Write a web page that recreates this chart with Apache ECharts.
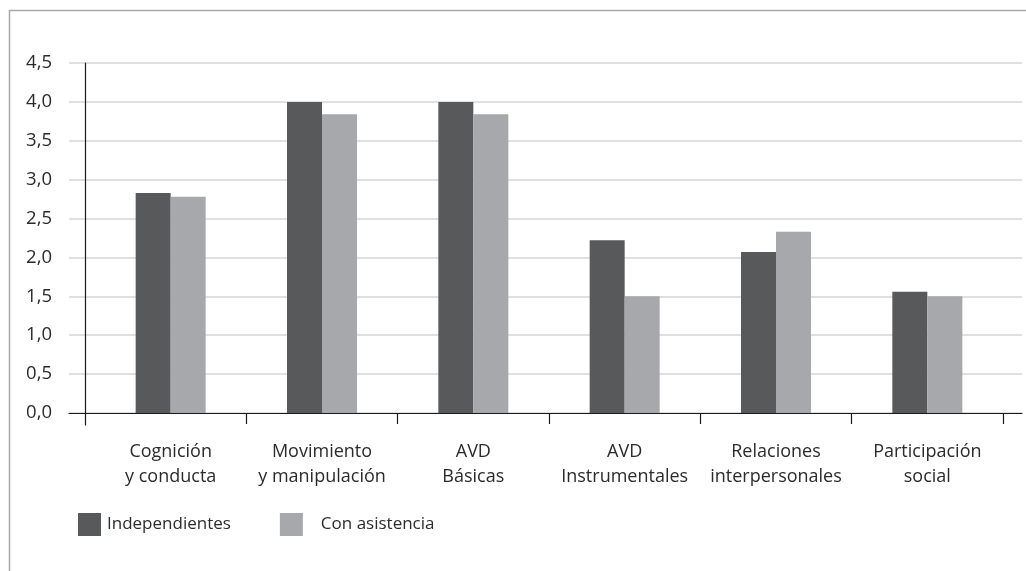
<!DOCTYPE html>
<html>
<head>
<meta charset="utf-8">
<script src="https://cdn.jsdelivr.net/npm/echarts@6/dist/echarts.min.js"></script>
<style>html,body{margin:0;padding:0;background:#fff}#c{width:1026px;height:571px}</style>
</head>
<body>
<div id="c"></div>
<script>
var categories = ['Cognición\ny conducta', 'Movimiento\ny manipulación', 'AVD\nBásicas', 'AVD\nInstrumentales', 'Relaciones\ninterpersonales', 'Participación\nsocial'];
var independientes = [2.83, 4.0, 4.0, 2.22, 2.07, 1.56];
var conAsistencia = [2.78, 3.84, 3.84, 1.5, 2.33, 1.5];
var seriesNames = ['Independientes', 'Con asistencia'];
var yMin = 0, yMax = 4.5, yStep = 0.5;

var FONT = 'Open Sans';
var chart = echarts.init(document.getElementById('c'));
chart.setOption({
  animation: false,
  backgroundColor: '#fff',
  textStyle: {fontFamily: FONT},
  graphic: [
    {type: 'line', shape: {x1: 9, y1: 10.5, x2: 1026, y2: 10.5}, style: {stroke: '#a8a8a8', lineWidth: 1.5}, silent: true},
    {type: 'line', shape: {x1: 9.5, y1: 10, x2: 9.5, y2: 571}, style: {stroke: '#a8a8a8', lineWidth: 1.5}, silent: true}
  ],
  legend: {
    left: 73, top: 508,
    itemWidth: 23, itemHeight: 23, itemGap: 49,
    icon: 'rect',
    textStyle: {fontFamily: FONT, fontSize: 17, color: '#2b2b2b'},
    data: [
      {name: seriesNames[0], textStyle: {padding: [0, 0, 0, 1]}},
      {name: seriesNames[1], textStyle: {padding: [0, 0, 0, 13]}}
    ]
  },
  grid: [
    {left: 69, right: 4, top: 63, bottom: 158},
    {left: 95, right: 23, top: 63, bottom: 158},
    {left: 85, right: 23, top: 63, bottom: 146}
  ],
  xAxis: [
    {gridIndex: 0, type: 'value', min: 0, max: 1, z: 10,
      axisLine: {show: true, lineStyle: {color: '#1a1a1a', width: 1.2}},
      axisTick: {show: false}, axisLabel: {show: false}, splitLine: {show: false}},
    {gridIndex: 1, type: 'category', data: categories, z: 10,
      axisLine: {show: false},
      axisTick: {show: true, length: 11, interval: function (i) { return i > 0; }, lineStyle: {color: '#1a1a1a', width: 1.2}},
      axisLabel: {fontFamily: FONT, fontSize: 18, color: '#2b2b2b', lineHeight: 25, margin: 26, interval: 0},
      splitLine: {show: false}},
    {gridIndex: 2, type: 'value', show: false}
  ],
  yAxis: [
    {gridIndex: 0, type: 'value', min: yMin, max: yMax, interval: yStep,
      axisLine: {show: false}, axisTick: {show: false},
      axisLabel: {fontFamily: FONT, fontSize: 18.5, color: '#2b2b2b', margin: 17,
        formatter: function (v) { return v.toFixed(1).replace('.', ','); }},
      splitLine: {show: true, lineStyle: {color: '#d6d6d6', width: 1.5}}},
    {gridIndex: 1, type: 'value', min: yMin, max: yMax, interval: yStep, show: false},
    {gridIndex: 2, type: 'value', min: 0, max: 1, z: 10,
      axisLine: {show: true, lineStyle: {color: '#1a1a1a', width: 1.2}},
      axisTick: {show: false}, axisLabel: {show: false}, splitLine: {show: false}}
  ],
  series: [
    {name: seriesNames[0], type: 'bar', xAxisIndex: 1, yAxisIndex: 1, data: independientes,
      barWidth: 35, barGap: '0%', itemStyle: {color: '#58595b'}},
    {name: seriesNames[1], type: 'bar', xAxisIndex: 1, yAxisIndex: 1, data: conAsistencia,
      barWidth: 35, barGap: '0%', itemStyle: {color: '#a7a8ab'}}
  ]
});
</script>
</body>
</html>
